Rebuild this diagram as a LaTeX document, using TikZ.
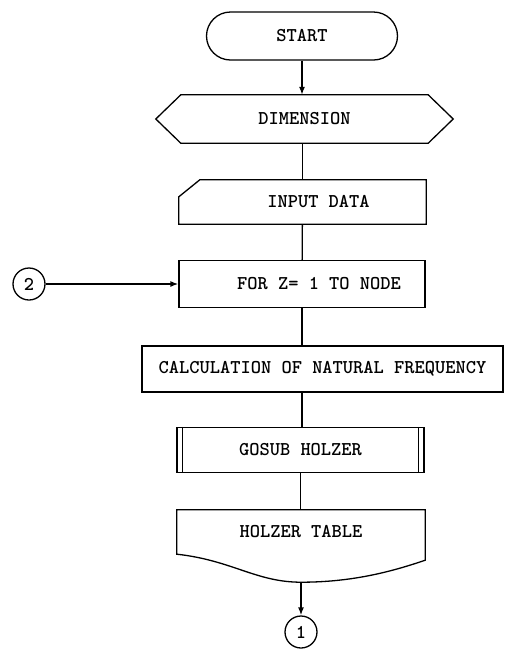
\documentclass[tikz,border=0pt]{standalone}
\usepackage{fontspec}
\usetikzlibrary{arrows.meta,calc}

\begin{document}
\begin{tikzpicture}[x=1pt,y=-1pt,>={Latex[length=8pt,width=6pt]},
    line/.style={line width=1.3pt},
    flow/.style={line,->},
    txt/.style={font=\ttfamily\bfseries\fontsize{19.5}{22}\selectfont,inner sep=0pt},
    box/.style={txt,line,draw},
    connector/.style={txt,line,draw,circle,minimum size=32pt}]
  \useasboundingbox (0,0) rectangle (506,649);

  % blocks, top to bottom
  \node[box,rounded corners=24pt,minimum width=191pt,minimum height=48pt] (start) at (302,36) {START};
  \node[txt,minimum width=297pt,minimum height=48pt] (dim) at (304.5,119) {DIMENSION};
  \node[txt,minimum width=247pt,minimum height=44pt] (inp) at (302.5,202) {\hspace*{32pt}INPUT DATA};
  \node[box,minimum width=246pt,minimum height=47pt] (loop) at (302,284) {\hspace*{34pt}FOR Z= 1 TO NODE};
  \node[box,minimum width=361pt,minimum height=46pt] (calc) at (322.5,369) {CALCULATION OF NATURAL FREQUENCY};
  \node[box,minimum width=247pt,minimum height=45pt] (sub) at (300.5,450) {GOSUB HOLZER};
  \node[txt,minimum width=248pt,minimum height=44pt] (tab) at (301,532) {HOLZER TABLE};
  \node[connector] (c2) at (29,284) {2};
  \node[connector] (c1) at (301,632) {1};

  % outlines
  \draw[line] ($(dim.north west)+(25,0)$) -- ($(dim.north east)+(-25,0)$) -- (dim.east)
    -- ($(dim.south east)+(-25,0)$) -- ($(dim.south west)+(25,0)$) -- (dim.west) -- cycle;
  \draw[line] ($(inp.north west)+(0,17)$) -- ($(inp.north west)+(21,0)$) -- (inp.north east)
    -- (inp.south east) -- (inp.south west) -- cycle;
  \draw[line] ($(sub.north west)+(6,0)$) -- ($(sub.south west)+(6,0)$);
  \draw[line] ($(sub.north east)+(-6,0)$) -- ($(sub.south east)+(-6,0)$);
  \draw[line] (tab.north west) -- (tab.north east) -- ($(tab.south east)+(0,6)$)
    .. controls +(-35,12) and +(50,0) .. ($(tab.south)+(0,28)$) coordinate (tabfoot)
    .. controls +(-45,0) and +(55,6) .. (tab.south west) -- cycle;

  % connectors
  \draw[flow] (start.south) -- (start.south |- dim.north);
  \draw[line] (inp.north |- dim.south) -- (inp.north);
  \draw[line] (inp) -- (loop);
  \draw[line] (loop.south) -- (loop.south |- calc.north);
  \draw[line] (loop.south |- calc.south) -- (loop.south |- sub.north);
  \draw[line] (sub.south) -- (sub.south |- tab.north);
  \draw[flow] (c2) -- (loop);
  \draw[flow] (tabfoot) -- (c1);
\end{tikzpicture}
\end{document}
